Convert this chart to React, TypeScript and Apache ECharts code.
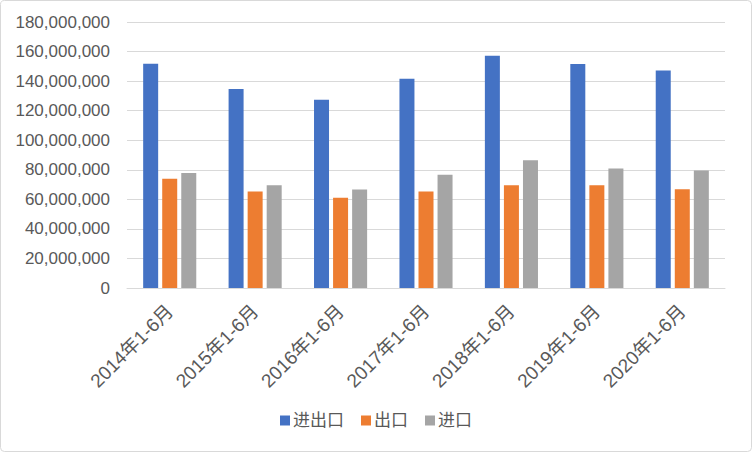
import React, { useEffect, useRef } from "react";
import * as echarts from "echarts";

const categories = [
  "2014年1-6月",
  "2015年1-6月",
  "2016年1-6月",
  "2017年1-6月",
  "2018年1-6月",
  "2019年1-6月",
  "2020年1-6月",
];
const seriesNames = ["进出口", "出口", "进口"];
const totalTrade = [151800000, 134600000, 127400000, 141600000, 157200000, 151600000, 147200000];
const exports = [73900000, 65300000, 61000000, 65300000, 69600000, 69600000, 66900000];
const imports = [77900000, 69500000, 66600000, 76600000, 86400000, 80800000, 79500000];
const colors = ["#4472C4", "#ED7D31", "#A5A5A5"];

const FONT = "'Liberation Sans', 'Noto Sans CJK SC', sans-serif";

export default function App() {
  const ref = useRef<HTMLDivElement>(null);
  useEffect(() => {
    document.body.style.margin = "0";
    const chart = echarts.init(ref.current!, null, { renderer: "svg" });
    const data = [totalTrade, exports, imports];
    chart.setOption({
      animation: false,
      backgroundColor: "#ffffff",
      textStyle: { fontFamily: FONT },
      graphic: [
        {
          type: "rect",
          shape: { x: 0.5, y: 0.5, width: 751, height: 451, r: 4 },
          style: { fill: "none", stroke: "#d9d9d9", lineWidth: 1 },
          silent: true,
        },
      ],
      grid: { left: 127, right: 27, top: 22, bottom: 164 },
      legend: {
        bottom: 18,
        left: "center",
        itemWidth: 10,
        itemHeight: 10,
        itemGap: 17,
        icon: "rect",
        textStyle: { fontSize: 17, color: "#595959", fontFamily: FONT, padding: [0, 0, 0, -2] },
        data: seriesNames,
      },
      xAxis: {
        type: "category",
        data: categories,
        axisLine: { lineStyle: { color: "#d9d9d9", width: 1 } },
        axisTick: { show: false },
        axisLabel: {
          rotate: 45,
          interval: 0,
          fontSize: 19,
          color: "#595959",
          margin: 20,
          fontFamily: FONT,
        },
      },
      yAxis: {
        type: "value",
        min: 0,
        max: 180000000,
        interval: 20000000,
        axisLine: { show: false },
        axisTick: { show: false },
        splitLine: { lineStyle: { color: "#d9d9d9", width: 1 } },
        axisLabel: {
          fontSize: 17,
          color: "#595959",
          margin: 17,
          fontFamily: FONT,
          formatter: (v: number) => v.toLocaleString("en-US"),
        },
      },
      series: seriesNames.map((name, i) => ({
        name,
        type: "bar",
        data: data[i],
        barWidth: 15,
        barGap: "27%",
        itemStyle: { color: colors[i] },
      })),
    });
    return () => chart.dispose();
  }, []);
  return (
    <div
      ref={ref}
      style={{ position: "absolute", left: 0, top: 0, width: 752, height: 452 }}
    />
  );
}
